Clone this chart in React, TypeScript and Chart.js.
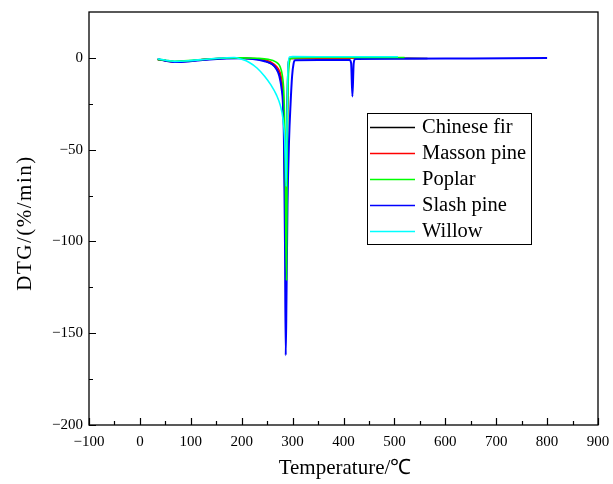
import React, { useEffect, useRef } from "react";
import { Chart, registerables } from "chart.js";

Chart.register(...registerables);

const seriesNames = ["Chinese fir", "Masson pine", "Poplar", "Slash pine", "Willow"];
const seriesColors = ["#000000", "#FF0000", "#00FF00", "#0000FF", "#00FFFF"];
// drawing order (lower = drawn later, on top)
const seriesOrder = [4, 3, 1, 2, 0];

const firT = [35, 50, 68, 95, 130, 170, 200, 222, 245, 262, 270, 275, 279, 281, 283, 285, 286.5, 288, 290, 292, 295, 350, 450, 565];
const firV = [-0.8, -1.5, -2.1, -1.7, -0.8, -0.2, -0.2, -0.5, -1.5, -4, -6.5, -9.5, -15, -22, -40, -80, -110, -50, -15, -2, -0.3, -0.2, -0.2, -0.3];

const massonT = [35, 50, 68, 95, 130, 170, 200, 225, 248, 264, 272, 277, 280, 282, 284, 286, 287.5, 289, 291, 293, 296, 350, 450, 520];
const massonV = [-0.8, -1.5, -2.2, -1.8, -0.8, -0.2, -0.2, -0.4, -1.2, -3.5, -6, -9.5, -15, -22, -45, -90, -115, -50, -12, -2, -0.3, -0.2, -0.2, -0.2];

const poplarT = [35, 50, 68, 95, 130, 170, 200, 230, 252, 267, 274, 278, 281, 283, 285, 286.5, 288, 289.5, 291.5, 294, 297, 350, 450, 520];
const poplarV = [-0.8, -1.3, -1.8, -1.5, -0.7, -0.1, 0, -0.2, -0.8, -2.2, -4, -7, -12, -20, -45, -90, -121, -50, -12, -2, -0.2, 0.2, 0.2, 0.2];

const slashT = [35, 50, 68, 95, 130, 170, 200, 222, 245, 260, 268, 274, 278, 281, 283, 285, 286.5, 288, 290, 293, 296, 299, 302, 305, 350, 412, 415, 417.5, 420, 423, 500, 650, 800];
const slashV = [-0.6, -1.6, -2.3, -2, -1, -0.3, -0.2, -0.6, -1.8, -3.5, -6, -10, -16, -25, -45, -100, -162, -130, -80, -45, -25, -10, -3, -1.3, -1.2, -1.2, -3, -21, -3, -0.6, -0.5, -0.3, -0.1];

const willowT = [35, 50, 68, 95, 130, 160, 185, 200, 215, 230, 245, 258, 268, 276, 281, 284, 286, 287.5, 289, 291, 294, 300, 400, 507];
const willowV = [-0.5, -1.3, -1.9, -1.6, -0.7, -0.1, 0.2, -0.8, -2.5, -5.5, -10, -15, -20, -26, -33, -42, -55, -70, -35, -5, 0.5, 0.7, 0.6, 0.6];

const seriesT = [firT, massonT, poplarT, slashT, willowT];
const seriesV = [firV, massonV, poplarV, slashV, willowV];

const xMajorTicks = [-100, 0, 100, 200, 300, 400, 500, 600, 700, 800, 900];
const yMajorTicks = [-200, -150, -100, -50, 0];

const xTitle = "Temperature/\u2103";
const yTitle = "DTG/(%/min)";

const FONT = "'Liberation Serif', 'Times New Roman', serif";

function fmt(v: number) {
  return String(v).replace("-", "\u2212");
}

export default function App() {
  const ref = useRef<HTMLCanvasElement | null>(null);

  useEffect(() => {
    const canvas = ref.current;
    if (!canvas) return;

    const framePlugin = {
      id: "frameTicks",
      afterDraw(chart: any) {
        const ctx = chart.ctx;
        const a = chart.chartArea;
        const xs = chart.scales.x;
        const ys = chart.scales.y;
        ctx.save();
        ctx.strokeStyle = "#000";
        ctx.lineWidth = 1.3;
        ctx.strokeRect(a.left, a.top, a.right - a.left, a.bottom - a.top);
        ctx.lineWidth = 1.2;
        ctx.beginPath();
        for (let v = -100; v <= 900; v += 50) {
          const px = Math.round(xs.getPixelForValue(v)) + 0.5;
          const len = v % 100 === 0 ? 7 : 4;
          ctx.moveTo(px, a.bottom);
          ctx.lineTo(px, a.bottom - len);
        }
        for (let v = -200; v <= 0; v += 25) {
          const py = Math.round(ys.getPixelForValue(v)) + 0.5;
          const len = v % 50 === 0 ? 7 : 4;
          ctx.moveTo(a.left, py);
          ctx.lineTo(a.left + len, py);
        }
        ctx.stroke();

        // axis titles
        ctx.fillStyle = "#000";
        ctx.font = `21px ${FONT}`;
        ctx.textAlign = "center";
        ctx.textBaseline = "middle";
        ctx.fillText(xTitle, 345, 468);
        ctx.save();
        ctx.translate(25, 223);
        ctx.rotate(-Math.PI / 2);
        try {
          (ctx as any).letterSpacing = "1.5px";
        } catch (e) {}
        ctx.fillText(yTitle, 0, 0);
        try {
          (ctx as any).letterSpacing = "0px";
        } catch (e) {}
        ctx.restore();

        // legend
        const lx = 367, ly = 113, lw = 164, lh = 131;
        ctx.lineWidth = 1;
        ctx.strokeStyle = "#000";
        ctx.strokeRect(lx + 0.5, ly + 0.5, lw, lh);
        ctx.font = `20.5px ${FONT}`;
        ctx.textAlign = "left";
        chart.data.datasets.forEach((ds: any, i: number) => {
          const y = ly + 14 + i * 26;
          ctx.strokeStyle = ds.borderColor;
          ctx.lineWidth = 1.5;
          ctx.beginPath();
          ctx.moveTo(lx + 3, y + 0.5);
          ctx.lineTo(lx + 48, y + 0.5);
          ctx.stroke();
          ctx.fillStyle = "#000";
          ctx.fillText(ds.label, lx + 55, y + 1);
        });
        ctx.restore();
      },
    };

    const chart = new Chart(canvas, {
      type: "line",
      data: {
        datasets: seriesNames.map((name, i) => ({
          label: name,
          data: seriesT[i].map((t, j) => ({ x: t, y: seriesV[i][j] })),
          borderColor: seriesColors[i],
          backgroundColor: seriesColors[i],
          borderWidth: i === 3 ? 2 : 1.6,
          pointRadius: 0,
          order: seriesOrder[i],
          cubicInterpolationMode: "monotone" as const,
          fill: false,
        })),
      },
      options: {
        responsive: false,
        animation: false,
        layout: { padding: { top: 12, right: 15, left: 0, bottom: 0 } },
        plugins: { legend: { display: false }, tooltip: { enabled: false } },
        scales: {
          x: {
            type: "linear",
            min: -100,
            max: 900,
            grid: { display: false, drawTicks: false },
            border: { display: false },
            ticks: {
              stepSize: 100,
              color: "#000",
              font: { family: FONT, size: 15 },
              padding: 8,
              maxRotation: 0,
              autoSkip: false,
              callback: (v: any) => (xMajorTicks.includes(Number(v)) ? fmt(Number(v)) : ""),
            },
            afterFit: (s: any) => {
              s.height = 59;
              s.paddingLeft = 0;
              s.paddingRight = 0;
            },
          },
          y: {
            type: "linear",
            min: -200,
            max: 25,
            grid: { display: false, drawTicks: false },
            border: { display: false },
            ticks: {
              stepSize: 50,
              color: "#000",
              font: { family: FONT, size: 15 },
              padding: 6,
              autoSkip: false,
              callback: (v: any) => (yMajorTicks.includes(Number(v)) ? fmt(Number(v)) : ""),
            },
            afterFit: (s: any) => {
              s.width = 89;
              s.paddingTop = 0;
              s.paddingBottom = 0;
            },
          },
        },
      },
      plugins: [framePlugin],
    });

    return () => chart.destroy();
  }, []);

  return (
    <div style={{ position: "fixed", left: 0, top: 0, width: 613, height: 484, background: "#fff" }}>
      <canvas ref={ref} width={613} height={484} />
    </div>
  );
}
